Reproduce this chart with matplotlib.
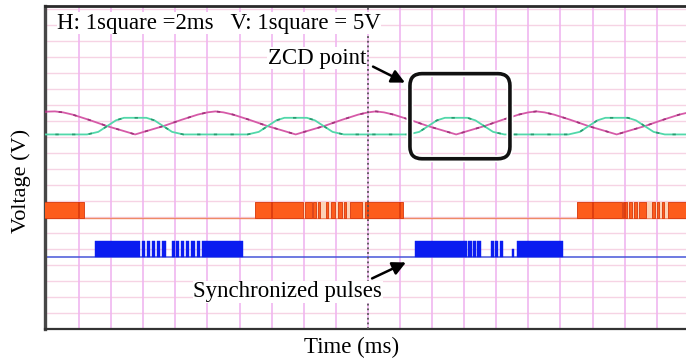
import matplotlib
matplotlib.use("Agg")
import matplotlib.pyplot as plt
from matplotlib.patches import FancyBboxPatch

# time in ms (1 square = 2 ms), voltage in V (1 square = 5 V)
mag_t = [-0.2, 0.5, 1.0, 1.6, 2.6, 3.75, 4.7, 5.5, 6.3, 7.25, 8.4, 9.4, 10.0,
         10.5, 11.0, 11.6, 12.6, 13.75, 14.7, 15.5, 16.3, 17.25, 18.4, 19.4, 20.0,
         20.5, 21.0, 21.6, 22.6, 23.75, 24.7, 25.5, 26.3, 27.25, 28.4, 29.4, 30.0,
         30.5, 31.0, 31.6, 32.6, 33.75, 34.7, 35.5, 36.3, 37.25, 38.4, 39.4, 40.0]
mag_v = [33.95, 34.0, 33.85, 33.5, 32.7, 31.7, 31.0, 30.4, 31.0, 31.7, 32.7, 33.5, 33.85,
         34.0, 33.85, 33.5, 32.7, 31.7, 31.0, 30.4, 31.0, 31.7, 32.7, 33.5, 33.85,
         34.0, 33.85, 33.5, 32.7, 31.7, 31.0, 30.4, 31.0, 31.7, 32.7, 33.5, 33.85,
         34.0, 33.85, 33.5, 32.7, 31.7, 31.0, 30.4, 31.0, 31.7, 32.7, 33.5, 33.85]

grn_t = [-0.2,
         2.5, 3.2, 3.75, 4.3, 4.8, 6.2, 6.7, 7.25, 7.8, 8.5,
         12.5, 13.2, 13.75, 14.3, 14.8, 16.2, 16.7, 17.25, 17.8, 18.5,
         22.5, 23.2, 23.75, 24.3, 24.8, 26.2, 26.7, 27.25, 27.8, 28.5,
         32.5, 33.2, 33.75, 34.3, 34.8, 36.2, 36.7, 37.25, 37.8, 38.5,
         40.0]
grn_v = [30.4,
         30.4, 30.8, 31.7, 32.6, 33.0, 33.0, 32.6, 31.7, 30.8, 30.4,
         30.4, 30.8, 31.7, 32.6, 33.0, 33.0, 32.6, 31.7, 30.8, 30.4,
         30.4, 30.8, 31.7, 32.6, 33.0, 33.0, 32.6, 31.7, 30.8, 30.4,
         30.4, 30.8, 31.7, 32.6, 33.0, 33.0, 32.6, 31.7, 30.8, 30.4,
         30.4]

# gate signal levels
orange_low, orange_high = 17.4, 19.85
blue_low, blue_high = 11.3, 13.8

# "on" intervals (ms) of each burst
orange_bursts = [
    [(-0.2, 2.31)],
    [(12.96, 15.97), (16.06, 16.50), (16.60, 16.77), (16.88, 17.04), (17.38, 17.53),
     (17.73, 17.95), (18.12, 18.36), (18.50, 18.62), (18.88, 19.62), (19.80, 22.20)],
    [(33.01, 35.81), (35.90, 36.12), (36.25, 36.45), (36.58, 36.78), (36.90, 37.32),
     (37.68, 37.88), (38.00, 38.15), (38.30, 38.45), (38.72, 40.0)],
]
blue_bursts = [
    [(2.99, 5.80), (5.90, 6.11), (6.21, 6.42), (6.52, 6.74), (6.84, 7.05), (7.15, 7.42),
     (7.78, 7.96), (8.06, 8.24), (8.34, 8.55), (8.65, 8.87), (8.97, 9.23), (9.33, 9.54),
     (9.64, 12.22)],
    [(22.93, 26.16), (26.25, 26.46), (26.54, 26.74), (26.82, 27.03), (27.65, 27.86),
     (27.94, 28.12), (28.22, 28.44), (29.27, 32.17)],
]
blue_short = [(28.96, 29.12)]

plt.rcParams['font.family'] = ['Liberation Serif', 'DejaVu Serif']

fig = plt.figure(figsize=(6.86, 3.62), dpi=100)
ax = fig.add_axes([44.5 / 686, 33 / 362, 641.5 / 686, 323 / 362])
ax.set_xlim(-0.15, 39.82)
ax.set_ylim(0, 50.47)

# scope graticule
for x in range(2, 40, 2):
    ax.axvline(x, color='#f0b6f0', lw=1.2, zorder=0.5)
for k in range(1, 21):
    ax.axhline(2.5 * k, color='#f6d3e4', lw=1.0, zorder=0.4)
ax.set_xticks([])
ax.set_yticks([])

# gate traces
ax.axhline(orange_low, color='#ef8a66', lw=1.0, zorder=2)
ax.axhline(blue_low, color='#4656d8', lw=1.1, zorder=2)
for segs in orange_bursts:
    ax.broken_barh([(segs[0][0], segs[-1][1] - segs[0][0])],
                   (orange_low, orange_high - orange_low),
                   facecolors='#fcd3b8', zorder=2.5)
    ax.broken_barh([(s, e - s) for s, e in segs], (orange_low, orange_high - orange_low),
                   facecolors='#fd5c1c', edgecolors='#d8380e', lw=0.6, zorder=3)
    for s, e in segs:
        for x in range(2, 40, 2):
            if s < x < e:
                ax.vlines(x, orange_low, orange_high, color='#d8360c', lw=1.1, zorder=3.2)
for segs in blue_bursts:
    ax.broken_barh([(s, e - s) for s, e in segs], (blue_low, blue_high - blue_low),
                   facecolors='#0a1cf0', edgecolors='#0a1cf0', lw=0.3, zorder=3)
ax.broken_barh([(s, e - s) for s, e in blue_short], (blue_low, (blue_high - blue_low) * 0.5),
               facecolors='#0a1cf0', edgecolors='#0a1cf0', lw=0.3, zorder=3)

# line voltages
ax.plot(mag_t, mag_v, color='#d65aa8', lw=1.3, zorder=4)
ax.plot(mag_t, mag_v, color='#a0327a', lw=1.2, ls=(0, (2, 7)), zorder=4.1)
ax.plot(grn_t, grn_v, color='#52d8aa', lw=1.3, zorder=4)
ax.plot(grn_t, grn_v, color='#2a9a70', lw=1.2, ls=(3, (2, 8)), zorder=4.1)

# centre marker
ax.axvline(20.0, color='#555555', lw=1.3, ls=(0, (1, 1.6)), zorder=5)

# ZCD highlight box
box_kw = dict(boxstyle='round,pad=0,rounding_size=0.75', mutation_aspect=16.05 / 6.4)
ax.add_patch(FancyBboxPatch((22.62, 26.6), 6.23, 13.3, fc='none', ec='white', lw=5,
                            zorder=6, **box_kw))
ax.add_patch(FancyBboxPatch((22.62, 26.6), 6.23, 13.3, fc='none', ec='#111111', lw=2.6,
                            zorder=6.1, **box_kw))

white = dict(fc='white', ec='none', pad=0.25)
ax.text(0.0195, 0.947, 'H: 1square =2ms   V: 1square = 5V', transform=ax.transAxes,
        fontsize=16.5, ha='left', va='center', zorder=7,
        bbox=dict(fc='white', ec='none', pad=0.4))
ax.text(0.425, 0.839, 'ZCD point', transform=ax.transAxes, fontsize=16.5,
        ha='center', va='center', zorder=7, bbox=white)
ax.text(0.379, 0.115, 'Synchronized pulses', transform=ax.transAxes, fontsize=16.5,
        ha='center', va='center', zorder=7, bbox=white)

arrow = dict(arrowstyle='-|>', color='black', lw=1.8, mutation_scale=20, shrinkA=0, shrinkB=0)
ax.annotate('', xy=(22.31, 38.5), xytext=(20.32, 41.0), arrowprops=arrow, zorder=8)
ax.annotate('', xy=(22.37, 10.4), xytext=(20.26, 7.9), arrowprops=arrow, zorder=8)

ax.spines['right'].set_visible(False)
ax.spines['left'].set_linewidth(2.4)
ax.spines['left'].set_color('#474747')
ax.spines['top'].set_linewidth(2.0)
ax.spines['top'].set_color('#2a2a2a')
ax.spines['bottom'].set_linewidth(1.6)
ax.spines['bottom'].set_color('#333333')

fig.text(21 / 686, 181 / 362, 'Voltage (V)', rotation=90, fontsize=16, ha='center', va='center')
fig.text(351.5 / 686, 15 / 362, 'Time (ms)', fontsize=16.5, ha='center', va='center')

fig.savefig('out.png', dpi=100)
